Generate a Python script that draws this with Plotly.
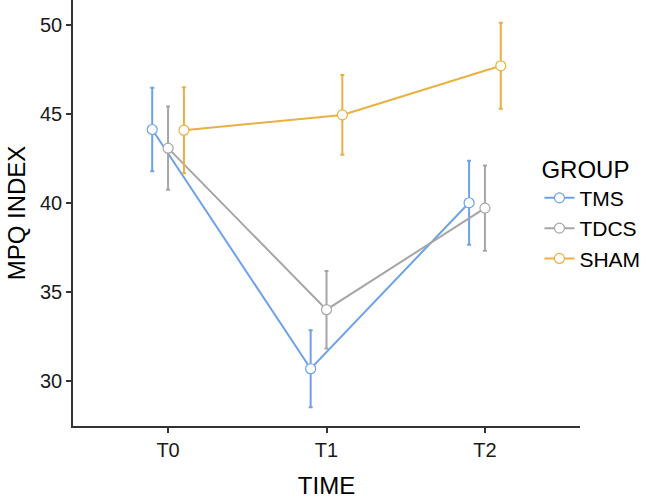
import plotly.graph_objects as go

# Data
times = ['T0', 'T1', 'T2']
groups = ['TMS', 'TDCS', 'SHAM']

tms_mean = [44.12, 30.67, 40.00]
tms_err = [2.35, 2.17, 2.36]
tdcs_mean = [43.07, 33.99, 39.70]
tdcs_err = [2.34, 2.18, 2.40]
sham_mean = [44.08, 44.94, 47.70]
sham_err = [2.42, 2.24, 2.42]

colors = {'TMS': '#6CA2EA', 'TDCS': '#A6A6A6', 'SHAM': '#EBB042'}
dodge = {'TMS': -0.1, 'TDCS': 0.0, 'SHAM': 0.1}

series = {
    'TMS': (tms_mean, tms_err),
    'TDCS': (tdcs_mean, tdcs_err),
    'SHAM': (sham_mean, sham_err),
}

fig = go.Figure()

for g in groups:
    means, errs = series[g]
    xs = [i + 1 + dodge[g] for i in range(len(times))]
    fig.add_trace(go.Scatter(
        x=xs,
        y=means,
        mode='lines+markers',
        name=g,
        line=dict(color=colors[g], width=2),
        marker=dict(symbol='circle', size=10, color='white',
                    line=dict(color=colors[g], width=1.2)),
        error_y=dict(type='data', array=errs, visible=True,
                     color=colors[g], thickness=2, width=2),
    ))

axis_font = dict(family='Liberation Sans, Arial, sans-serif', size=20, color='#1a1a1a')
title_font = dict(family='Liberation Sans, Arial, sans-serif', size=24, color='black')

fig.update_xaxes(
    range=[0.4, 3.6],
    tickmode='array', tickvals=[1, 2, 3], ticktext=times,
    showline=True, linecolor='#333333', linewidth=1.5,
    ticks='outside', ticklen=5, tickwidth=1.5, tickcolor='#333333',
    showgrid=False, zeroline=False, automargin=False,
    tickfont=axis_font,
    title=dict(text='TIME', font=title_font, standoff=17),
)
fig.update_yaxes(
    range=[27.45, 51.4],
    tickvals=[30, 35, 40, 45, 50],
    showline=True, linecolor='#333333', linewidth=1.5,
    ticks='outside', ticklen=5, tickwidth=1.5, tickcolor='#333333',
    showgrid=False, zeroline=False, automargin=False,
    tickfont=axis_font,
    title=dict(text='MPQ INDEX', font=title_font, standoff=8),
)

fig.update_layout(
    width=646, height=502,
    margin=dict(l=73, r=66, t=0, b=76),
    plot_bgcolor='white', paper_bgcolor='white',
    font=dict(family='Liberation Sans, Arial, sans-serif'),
    legend=dict(
        title=dict(text='GROUP', font=dict(size=24, color='black')),
        font=dict(size=21, color='black'),
        x=0.92, xanchor='left', y=0.5, yanchor='middle',
        bgcolor='rgba(0,0,0,0)', tracegroupgap=0, itemwidth=30,
    ),
)

# drop the default page margin so the figure sits at the window's corner
fig.write_html("out.html", config={'displayModeBar': False},
               post_script="document.body.style.margin='0';")
